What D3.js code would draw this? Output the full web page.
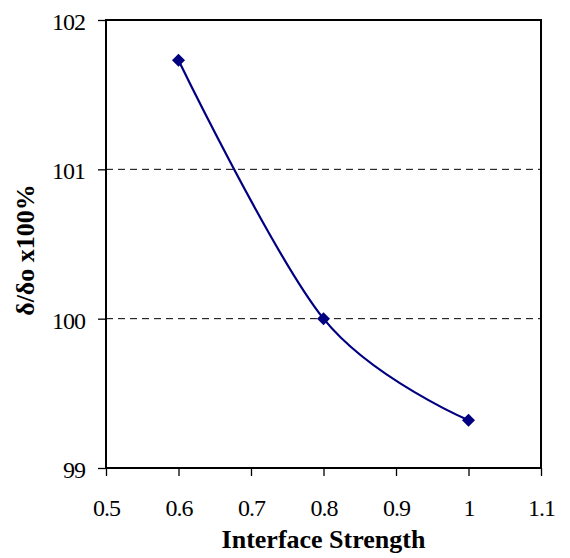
<!DOCTYPE html>
<html>
<head>
<meta charset="utf-8">
<script src="https://cdn.jsdelivr.net/npm/d3@7"></script>
<style>
  body { margin: 0; background: #fff; }
  svg { display: block; }
</style>
</head>
<body>
<svg id="chart" width="570" height="558"></svg>
<script>
// Interface strength vs. normalised deflection
const strength = [0.6, 0.8, 1.0];
const deflection = [101.73, 100.0, 99.32];
const xTicks = [0.5, 0.6, 0.7, 0.8, 0.9, 1, 1.1];
const yTicks = [99, 100, 101, 102];
const gridValues = [100, 101];

const SERIF = '"Liberation Serif", "Times New Roman", serif';
const svg = d3.select("#chart");
const margin = { left: 106, top: 20, right: 29, bottom: 90 };
const W = 570, H = 558;

const x = d3.scaleLinear().domain([0.5, 1.1]).range([margin.left, W - margin.right]);
const y = d3.scaleLinear().domain([99, 102]).range([H - margin.bottom, margin.top]);

// dashed gridlines
svg.append("g").selectAll("line").data(gridValues).join("line")
  .attr("x1", x(0.5)).attr("x2", x(1.1))
  .attr("y1", d => y(d)).attr("y2", d => y(d))
  .attr("stroke", "#000").attr("stroke-width", 1)
  .attr("stroke-dasharray", "7,5");

// axes
const xAxis = svg.append("g")
  .attr("transform", `translate(0,${y(99)})`)
  .call(d3.axisBottom(x).tickValues(xTicks).tickFormat(d3.format("")).tickSize(8).tickPadding(23));
const yAxis = svg.append("g")
  .attr("transform", `translate(${x(0.5)},0)`)
  .call(d3.axisLeft(y).tickValues(yTicks).tickFormat(d3.format("")).tickSize(8).tickPadding(13));

[xAxis, yAxis].forEach(g => {
  g.attr("font-family", SERIF).attr("font-size", 24);
  g.select(".domain").remove();
  g.selectAll(".tick line").attr("stroke", "#000").attr("stroke-width", 1.3);
  g.selectAll(".tick text")
    .attr("fill", "#000")
    .attr("letter-spacing", "-1px")
    .style("font-family", SERIF);
});
yAxis.selectAll(".tick text").attr("dy", "0.39em");

// plot frame
svg.append("rect")
  .attr("x", x(0.5)).attr("y", y(102))
  .attr("width", x(1.1) - x(0.5)).attr("height", y(99) - y(102))
  .attr("fill", "none").attr("stroke", "#000").attr("stroke-width", 2);

// smoothed series line
const pts = strength.map((s, i) => [s, deflection[i]]);
const line = d3.line().x(d => x(d[0])).y(d => y(d[1])).curve(d3.curveCardinal.tension(0));
svg.append("path").datum(pts)
  .attr("d", line)
  .attr("fill", "none").attr("stroke", "#000080").attr("stroke-width", 2.2);

// diamond markers
svg.append("g").selectAll("path").data(pts).join("path")
  .attr("transform", d => `translate(${x(d[0])},${y(d[1])})`)
  .attr("d", "M0,-6.5L6.5,0L0,6.5L-6.5,0Z")
  .attr("fill", "#000080");

// axis titles
svg.append("text")
  .attr("x", (x(0.5) + x(1.1)) / 2).attr("y", 548)
  .attr("text-anchor", "middle")
  .attr("font-family", SERIF).attr("font-size", 26).attr("font-weight", "bold")
  .text("Interface Strength");

svg.append("text")
  .attr("transform", `translate(34,250) rotate(-90)`)
  .attr("text-anchor", "middle")
  .attr("font-family", SERIF).attr("font-size", 26).attr("font-weight", "bold")
  .text("δ/δo x100%");
</script>
</body>
</html>
